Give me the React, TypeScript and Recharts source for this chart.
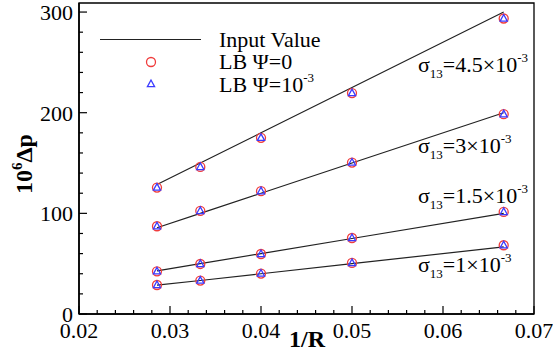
import React from 'react';
import { ComposedChart, Line, XAxis, YAxis, ReferenceArea } from 'recharts';

// 1/R positions of the simulated drops (R = 35, 30, 25, 20, 15)
const invR = [0.02857, 0.03333, 0.04, 0.05, 0.06667];

// input (Laplace) values, 10^6 Δp
const input45 = [128.6, 150, 180, 225, 300];
const input30 = [85.7, 100, 120, 150, 200];
const input15 = [42.9, 50, 60, 75, 100];
const input10 = [28.6, 33.3, 40, 50, 66.7];

// LB, Ψ = 0
const lb0_45 = [125.6, 146.1, 175, 219.5, 293.6];
const lb0_30 = [87.2, 102.4, 122, 150.5, 198.5];
const lb0_15 = [42.4, 49.7, 59.6, 75.5, 101.4];
const lb0_10 = [28.8, 33.2, 40.2, 50.7, 68.3];

// LB, Ψ = 10^-3
const lb3_45 = [125.6, 146.1, 175, 219.5, 293.6];
const lb3_30 = [87.2, 102.4, 122, 150.5, 198.5];
const lb3_15 = [42.4, 49.7, 59.6, 75.5, 101.4];
const lb3_10 = [28.8, 33.2, 40.2, 50.7, 68.3];

const xTicks = [
  0.02, 0.022, 0.024, 0.026, 0.028, 0.03, 0.032, 0.034, 0.036, 0.038,
  0.04, 0.042, 0.044, 0.046, 0.048, 0.05, 0.052, 0.054, 0.056, 0.058,
  0.06, 0.062, 0.064, 0.066, 0.068, 0.07,
];
const yTicks = [0, 20, 40, 60, 80, 100, 120, 140, 160, 180, 200, 220, 240, 260, 280, 300];

const data = invR.map((x, i) => ({
  x,
  in45: input45[i], in30: input30[i], in15: input15[i], in10: input10[i],
  a45: lb0_45[i], a30: lb0_30[i], a15: lb0_15[i], a10: lb0_10[i],
  b45: lb3_45[i], b30: lb3_30[i], b15: lb3_15[i], b10: lb3_10[i],
}));

const FONT = "'Liberation Serif', Tinos, 'Times New Roman', 'DejaVu Serif', serif";
const RED = '#f03c3c';
const BLUE = '#3b3bff';
const txt = { fontFamily: FONT };

const isMajorX = (v: number) => Math.abs(v * 100 - Math.round(v * 100)) < 1e-6;

const XTick = (props: any) => {
  const { x, y, payload } = props;
  const major = isMajorX(payload.value);
  return (
    <g>
      <line x1={x} x2={x} y1={y} y2={y - (major ? 8 : 4)} stroke="#000" strokeWidth={1.2} />
      {major && (
        <text x={x} y={y + 23.5} textAnchor="middle" fontSize={22} style={txt} fill="#000">
          {payload.value.toFixed(2)}
        </text>
      )}
    </g>
  );
};

const YTick = (props: any) => {
  const { x, y, payload } = props;
  const major = payload.value % 100 === 0;
  return (
    <g>
      <line x1={x} x2={x + (major ? 8 : 4)} y1={y} y2={y} stroke="#000" strokeWidth={1.2} />
      {major && (
        <text x={x - 6} y={y + 8} textAnchor="end" fontSize={22} style={txt} fill="#000">
          {payload.value}
        </text>
      )}
    </g>
  );
};

const Circle = (props: any) => {
  const { cx, cy, index } = props;
  if (cx == null || cy == null) return <g key={index} />;
  return <circle key={index} cx={cx} cy={cy} r={4.5} fill="none" stroke={RED} strokeWidth={1.3} />;
};

const Triangle = (props: any) => {
  const { cx, cy, index } = props;
  if (cx == null || cy == null) return <g key={index} />;
  const pts = `${cx},${cy - 4} ${cx - 3.6},${cy + 2.6} ${cx + 3.6},${cy + 2.6}`;
  return <polygon key={index} points={pts} fill="none" stroke={BLUE} strokeWidth={1.3} />;
};

const Sigma = ({ x, y, value }: { x: number; y: number; value: string }) => (
  <text x={x} y={y} fontSize={22} style={txt} fill="#000">
    σ
    <tspan dy={6} fontSize={13}>13</tspan>
    <tspan dy={-6}>={value}×10</tspan>
    <tspan dy={-10} fontSize={13}>-3</tspan>
  </text>
);

export default function App() {
  const inputKeys = ['in45', 'in30', 'in15', 'in10'];
  const lb0Keys = ['a45', 'a30', 'a15', 'a10'];
  const lb3Keys = ['b45', 'b30', 'b15', 'b10'];
  return (
    <div style={{ position: 'absolute', left: 0, top: 0, width: 553, height: 358, background: '#fff', fontFamily: FONT }}>
      <ComposedChart width={553} height={358} data={data} margin={{ top: 3, right: 19, bottom: 0, left: 0 }}>
        <XAxis
          dataKey="x"
          type="number"
          domain={[0.02, 0.07]}
          ticks={xTicks}
          interval={0}
          tickSize={0}
          tickMargin={0}
          tick={XTick}
          height={44}
          axisLine={{ stroke: '#000', strokeWidth: 1.6 }}
          allowDataOverflow
        />
        <YAxis
          type="number"
          domain={[0, 309]}
          ticks={yTicks}
          interval={0}
          tickSize={0}
          tickMargin={0}
          tick={YTick}
          width={79}
          axisLine={{ stroke: '#000', strokeWidth: 1.6 }}
          allowDataOverflow
        />
        <ReferenceArea x1={0.02} x2={0.07} y1={0} y2={309} fill="none" stroke="#000" strokeWidth={1.3} ifOverflow="visible" />
        {inputKeys.map((k) => (
          <Line key={k} dataKey={k} type="linear" stroke="#222" strokeWidth={1.2} dot={false} activeDot={false} isAnimationActive={false} />
        ))}
        {lb0Keys.map((k) => (
          <Line key={k} dataKey={k} stroke="none" dot={Circle} activeDot={false} isAnimationActive={false} />
        ))}
        {lb3Keys.map((k) => (
          <Line key={k} dataKey={k} stroke="none" dot={Triangle} activeDot={false} isAnimationActive={false} />
        ))}
      </ComposedChart>
      <svg width={553} height={358} style={{ position: 'absolute', left: 0, top: 0, pointerEvents: 'none' }}>
        {/* legend */}
        <line x1={100} x2={201} y1={39.5} y2={39.5} stroke="#222" strokeWidth={1.2} />
        <circle cx={151} cy={62} r={4.5} fill="none" stroke={RED} strokeWidth={1.3} />
        <polygon points="151,80 147.4,86.6 154.6,86.6" fill="none" stroke={BLUE} strokeWidth={1.3} />
        <text x={219} y={47} fontSize={22} style={txt} fill="#000">Input Value</text>
        <text x={219} y={69} fontSize={22} style={txt} fill="#000">LB Ψ=0</text>
        <text x={219} y={92} fontSize={22} style={txt} fill="#000">
          LB Ψ=10<tspan dy={-10} fontSize={13}>-3</tspan>
        </text>
        {/* series annotations */}
        <Sigma x={418} y={72} value="4.5" />
        <Sigma x={418} y={153} value="3" />
        <Sigma x={418} y={203} value="1.5" />
        <Sigma x={418} y={272} value="1" />
        {/* axis titles */}
        <text x={307} y={347} textAnchor="middle" fontSize={24} fontWeight="bold" style={txt} fill="#000">1/R</text>
        <text transform="translate(32,164) rotate(-90)" textAnchor="middle" fontSize={24} fontWeight="bold" style={txt} fill="#000">
          10<tspan dy={-10} fontSize={15}>6</tspan><tspan dy={10}>Δp</tspan>
        </text>
      </svg>
    </div>
  );
}
